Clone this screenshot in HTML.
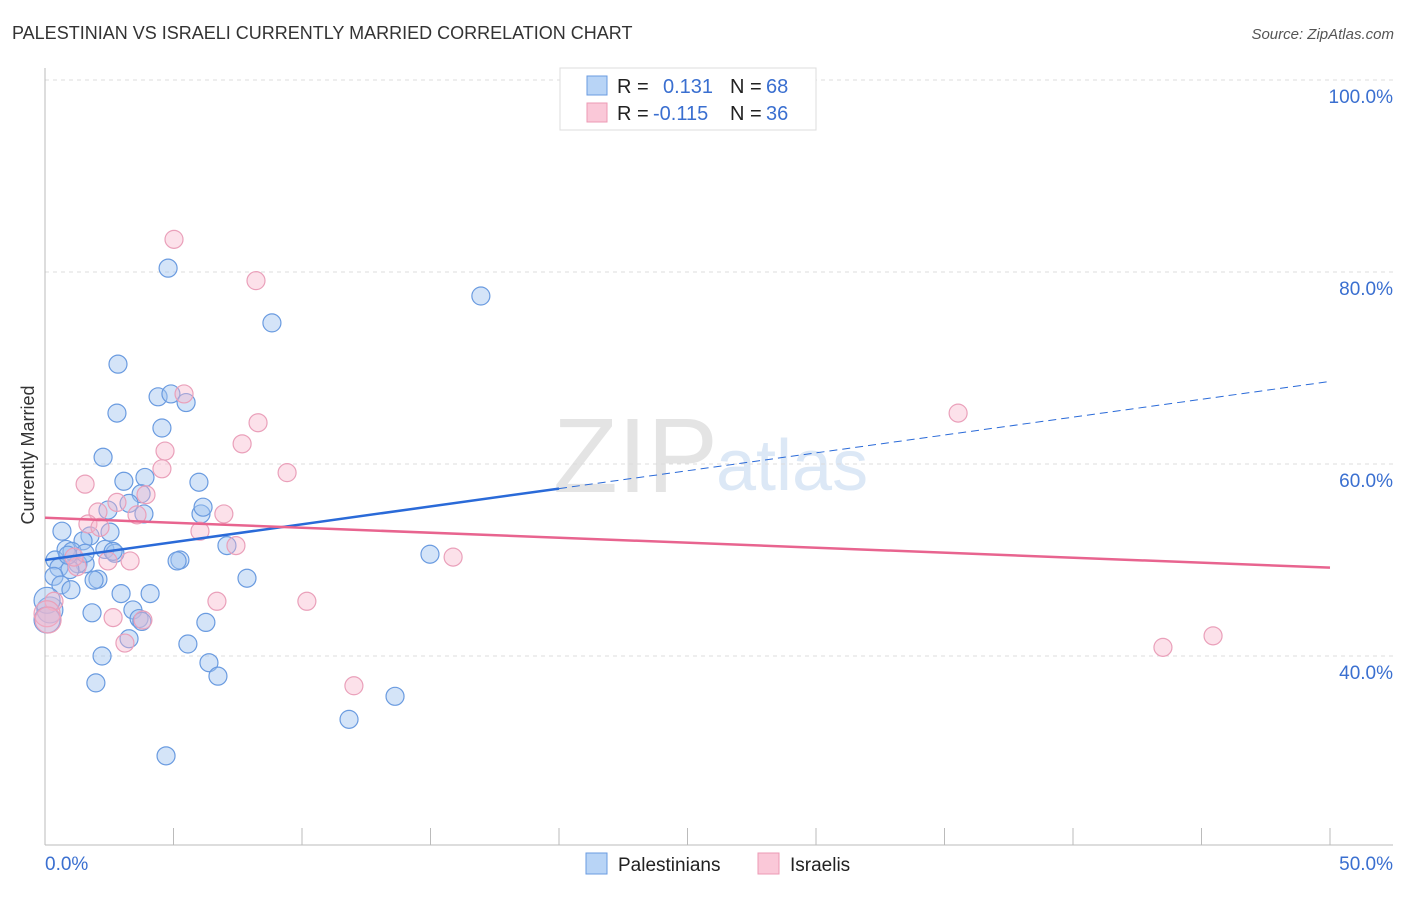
<!DOCTYPE html>
<html><head><meta charset="utf-8">
<style>
body{margin:0;background:#fff;font-family:"Liberation Sans",sans-serif;}
svg text{font-family:"Liberation Sans",sans-serif;}
</style></head>
<body>
<svg id="chart" width="1406" height="892" viewBox="0 0 1406 892">
<text x="12" y="39" font-size="18" fill="#333">PALESTINIAN VS ISRAELI CURRENTLY MARRIED CORRELATION CHART</text>
<text x="1394" y="39" font-size="15" fill="#555" font-style="italic" text-anchor="end">Source: ZipAtlas.com</text>
<g>
<text x="553" y="492" font-size="106" font-family="Liberation Serif" fill="#e4e4e4">ZIP</text>
<text x="716" y="490" font-size="72" fill="#dce8f6">atlas</text>
</g>
<g id="grid"></g>
<g id="axes"></g>
<g id="pts"></g>
<g id="trends"></g>
<g>
<rect x="560" y="68" width="256" height="62" fill="#fff" stroke="#ddd"/>
<rect x="587" y="76" width="20" height="19" fill="#b8d4f6" stroke="#6a9be0"/>
<rect x="587" y="103" width="20" height="19" fill="#fac8d8" stroke="#ec9ab4"/>
<text x="617" y="93" font-size="20" fill="#222">R = </text><text x="663" y="93" font-size="20" fill="#3a6fd0">0.131</text>
<text x="730" y="93" font-size="20" fill="#222">N = </text><text x="766" y="93" font-size="20" fill="#3a6fd0">68</text>
<text x="617" y="120" font-size="20" fill="#222">R = </text><text x="653" y="120" font-size="20" fill="#3a6fd0">-0.115</text>
<text x="730" y="120" font-size="20" fill="#222">N = </text><text x="766" y="120" font-size="20" fill="#3a6fd0">36</text>
</g>
<g>
<rect x="586" y="853" width="21" height="21" fill="#b8d4f6" stroke="#6a9be0"/>
<text x="618" y="871" font-size="19" fill="#222">Palestinians</text>
<rect x="758" y="853" width="21" height="21" fill="#fac8d8" stroke="#ec9ab4"/>
<text x="790" y="871" font-size="19" fill="#222">Israelis</text>
</g>
<text x="28" y="455" font-size="18" fill="#333" transform="rotate(-90 28 455)" text-anchor="middle" dy="6">Currently Married</text>
</svg>
<script>
const yTicks=[100,80,60,40];
const yTickLabels=["100.0%","80.0%","60.0%","40.0%"];
const xEndLabels=["0.0%","50.0%"];
const blueX=[4.79,16.96,8.83,2.84,4.40,4.90,5.49,2.80,4.55,2.26,3.07,3.89,5.99,3.74,3.27,2.45,3.85,6.07,6.15,0.66,2.53,1.75,1.48,0.82,1.05,2.33,2.72,2.65,0.39,1.56,1.28,5.25,5.14,7.08,14.98,0.54,0.97,0.35,0.62,1.01,2.06,1.91,7.86,2.96,4.09,1.83,3.42,3.66,3.77,6.26,0.19,3.27,5.56,2.22,6.38,6.73,1.98,13.62,11.83,4.71,0.08,0.08,0.89,1.56];
const blueY=[80.4,77.5,74.7,70.4,67.0,67.3,66.4,65.3,63.75,60.7,58.2,58.6,58.1,56.9,55.9,55.2,54.8,54.8,55.5,53.0,52.9,52.5,52.0,51.1,50.9,51.1,50.7,50.9,50.0,49.6,49.6,50.0,49.9,51.5,50.6,49.2,49.0,48.3,47.4,46.9,48.0,47.9,48.1,46.5,46.5,44.5,44.8,43.9,43.6,43.5,44.8,41.8,41.25,40.0,39.3,37.9,37.2,35.8,33.4,29.6,45.8,43.75,50.5,50.7];
const pinkX=[5.02,8.21,5.41,8.29,7.67,4.67,4.55,9.42,35.53,1.56,3.93,2.80,2.06,6.96,3.58,1.67,6.03,2.14,7.43,3.31,2.45,1.25,1.13,15.88,6.69,10.19,0.35,2.65,3.81,3.11,12.02,43.50,45.45,0.08,0.12];
const pinkY=[83.4,79.1,67.3,64.3,62.1,61.35,59.5,59.1,65.3,57.9,56.8,56.0,55.0,54.8,54.7,53.75,53.0,53.4,51.5,49.9,49.9,49.3,50.3,50.3,45.7,45.7,45.7,44.0,43.75,41.35,36.9,40.9,42.1,44.4,43.75];
const blueTrend=[50.0,68.6];
const pinkTrend=[54.4,49.2];
const NS="http://www.w3.org/2000/svg";
const X=v=>45+v*25.7;
const Y=v=>80+(100-v)*9.6;
function mk(tag,attrs,parent){const e=document.createElementNS(NS,tag);for(const k in attrs)e.setAttribute(k,attrs[k]);document.getElementById(parent).appendChild(e);return e;}
yTicks.forEach((t,i)=>{
 const l=mk('line',{x1:45,x2:1393,y1:Y(t),y2:Y(t),stroke:'#ddd','stroke-dasharray':'4,4'},'grid');
 
 
 const tx=mk('text',{x:1393,y:Y(t)+23,'font-size':19,fill:'#3a6fd0','text-anchor':'end'},'grid');
 tx.textContent=yTickLabels[i];
 
 
});
let a=mk('line',{x1:45,x2:45,y1:68,y2:845,stroke:'#bbb'},'axes');


a=mk('line',{x1:45,x2:1393,y1:845,y2:845,stroke:'#bbb'},'axes');


for(let i=0;i<=10;i++){
 const t=mk('line',{x1:X(i*5),x2:X(i*5),y1:828,y2:845,stroke:'#bbb'},'axes');
 
 
}
let t0=mk('text',{x:45,y:870,'font-size':19,fill:'#3a6fd0'},'axes');t0.textContent=xEndLabels[0];


let t1=mk('text',{x:1393,y:870,'font-size':19,fill:'#3a6fd0','text-anchor':'end'},'axes');t1.textContent=xEndLabels[1];


blueX.forEach((x,i)=>{
 const c=mk('circle',{cx:X(x),cy:Y(blueY[i]),r:x<0.2?13:9,fill:'rgba(160,196,240,0.45)',stroke:'#6a9be0','stroke-width':1.2},'pts');
 
 
});
pinkX.forEach((x,i)=>{
 const c=mk('circle',{cx:X(x),cy:Y(pinkY[i]),r:x<0.2?13:9,fill:'rgba(248,180,202,0.4)',stroke:'#eaa0ba','stroke-width':1.2},'pts');
 
 
});
const bAt=v=>blueTrend[0]+(blueTrend[1]-blueTrend[0])*v/50;
let l=mk('line',{x1:X(0),y1:Y(bAt(0)),x2:X(20),y2:Y(bAt(20)),stroke:'#2a6ad8','stroke-width':2.5},'trends');


l=mk('line',{x1:X(20),y1:Y(bAt(20)),x2:X(50),y2:Y(bAt(50)),stroke:'#2a6ad8','stroke-width':1,'stroke-dasharray':'8,5'},'trends');


l=mk('line',{x1:X(0),y1:Y(pinkTrend[0]),x2:X(50),y2:Y(pinkTrend[1]),stroke:'#e8648f','stroke-width':2.5},'trends');


</script>
</body></html>
